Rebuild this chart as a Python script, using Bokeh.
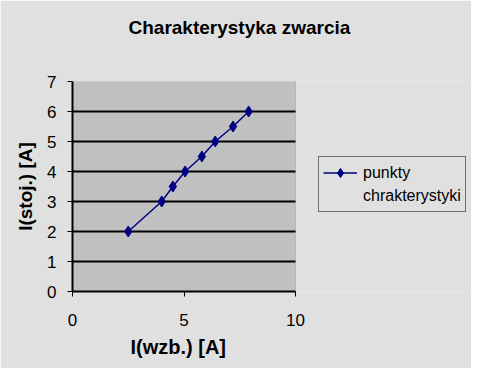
from bokeh.plotting import figure
from bokeh.models import Range1d, FixedTicker, Legend, LegendItem, Title, BoxAnnotation
from bokeh.embed import file_html
from bokeh.resources import INLINE

# data
i_wzb = [2.5, 4.0, 4.5, 5.05, 5.8, 6.4, 7.2, 7.9]
i_stoj = [2.0, 3.0, 3.5, 4.0, 4.5, 5.0, 5.5, 6.0]
x_ticks = [0, 5, 10]
y_ticks = [0, 1, 2, 3, 4, 5, 6, 7]
y_grid = [1, 2, 3, 4, 5, 6]
title_text = "Charakterystyka zwarcia"
x_label = "I(wzb.) [A]"
y_label = "I(stoj.) [A]"
series_label_lines = ["punkty", "chrakterystyki"]

FONT = "Liberation Sans"
BG = "#e0e0e0"

W, H = 471, 368
LEFT, TOP, BOTTOM = 72, 81, 77
PLOT_RIGHT = 295          # right edge of the grey plot area, in pixels
x_min, x_max = x_ticks[0], x_ticks[-1]
y_min, y_max = y_ticks[0], y_ticks[-1]
# the frame also holds the legend; extend the x range so x_max lands at PLOT_RIGHT
x_end = x_min + (x_max - x_min) * (W - LEFT) / (PLOT_RIGHT - LEFT)

p = figure(width=W, height=H, output_backend="svg", toolbar_location=None, title=None,
           x_range=Range1d(x_min, x_end), y_range=Range1d(y_min, y_max),
           min_border_left=LEFT, min_border_right=0,
           min_border_top=TOP, min_border_bottom=BOTTOM)

p.background_fill_color = BG
p.border_fill_color = BG
p.outline_line_color = None

# grey plot area
p.add_layout(BoxAnnotation(left=x_min, right=x_max, bottom=y_min, top=y_max,
                           fill_color="#c0c0c0", fill_alpha=1,
                           line_color="#808080", line_width=1, level="underlay"))

# spacer (closest to the frame), then the real title above it
p.add_layout(Title(text=" ", text_font_size="10px", standoff=16), "above")
p.add_layout(Title(text=title_text, align="left", offset=56, text_font=FONT,
                   text_font_size="19px", text_font_style="bold",
                   text_color="black", standoff=29), "above")

p.xgrid.visible = False
p.ygrid.visible = False
# horizontal grid lines across the plot area only
p.segment(x0=[x_min] * len(y_grid), x1=[x_max] * len(y_grid), y0=y_grid, y1=y_grid,
          line_color="black", line_width=2)

p.xaxis.ticker = FixedTicker(ticks=x_ticks)
p.yaxis.ticker = FixedTicker(ticks=y_ticks)
p.xaxis.bounds = (x_min, x_max)
for ax in (p.xaxis, p.yaxis):
    ax.axis_line_color = "black"
    ax.axis_line_width = 2
    ax.major_tick_line_color = "black"
    ax.major_tick_line_width = 1
    ax.major_tick_out = 5
    ax.major_tick_in = 0
    ax.minor_tick_line_color = None
    ax.major_label_text_font = FONT
    ax.major_label_text_font_size = "17px"
    ax.major_label_text_color = "black"
    ax.axis_label_text_font = FONT
    ax.axis_label_text_font_size = "19px"
    ax.axis_label_text_font_style = "bold"
    ax.axis_label_text_color = "black"

p.yaxis.axis_label = y_label
p.xaxis.major_label_standoff = 17
p.yaxis.major_label_standoff = 11
p.yaxis.axis_label_standoff = 8

# x-axis title, centred under the grey plot area (placed below the axis)
p.add_layout(Title(text=x_label, align="left", offset=58, text_font=FONT,
                   text_font_size="20px", text_font_style="bold",
                   text_color="black", standoff=10), "below")

ln = p.line(i_wzb, i_stoj, line_color="#000080", line_width=1.5)
mk = p.scatter(i_wzb, i_stoj, marker="diamond", size=11,
               fill_color="#000080", line_color="#000080")

legend = Legend(items=[LegendItem(label=series_label_lines[0], renderers=[ln, mk]),
                       LegendItem(label=series_label_lines[1], renderers=[])],
                location=(246, 79))
legend.background_fill_color = BG
legend.background_fill_alpha = 1
legend.border_line_color = "black"
legend.border_line_width = 1
legend.label_text_font = FONT
legend.label_text_font_size = "16px"
legend.label_text_color = "black"
legend.glyph_width = 34
legend.label_standoff = 6
legend.label_height = 23
legend.glyph_height = 23
legend.spacing = 0
legend.padding = 4
legend.margin = 0
p.add_layout(legend, "center")

open("out.html", "w").write(file_html(p, INLINE))
